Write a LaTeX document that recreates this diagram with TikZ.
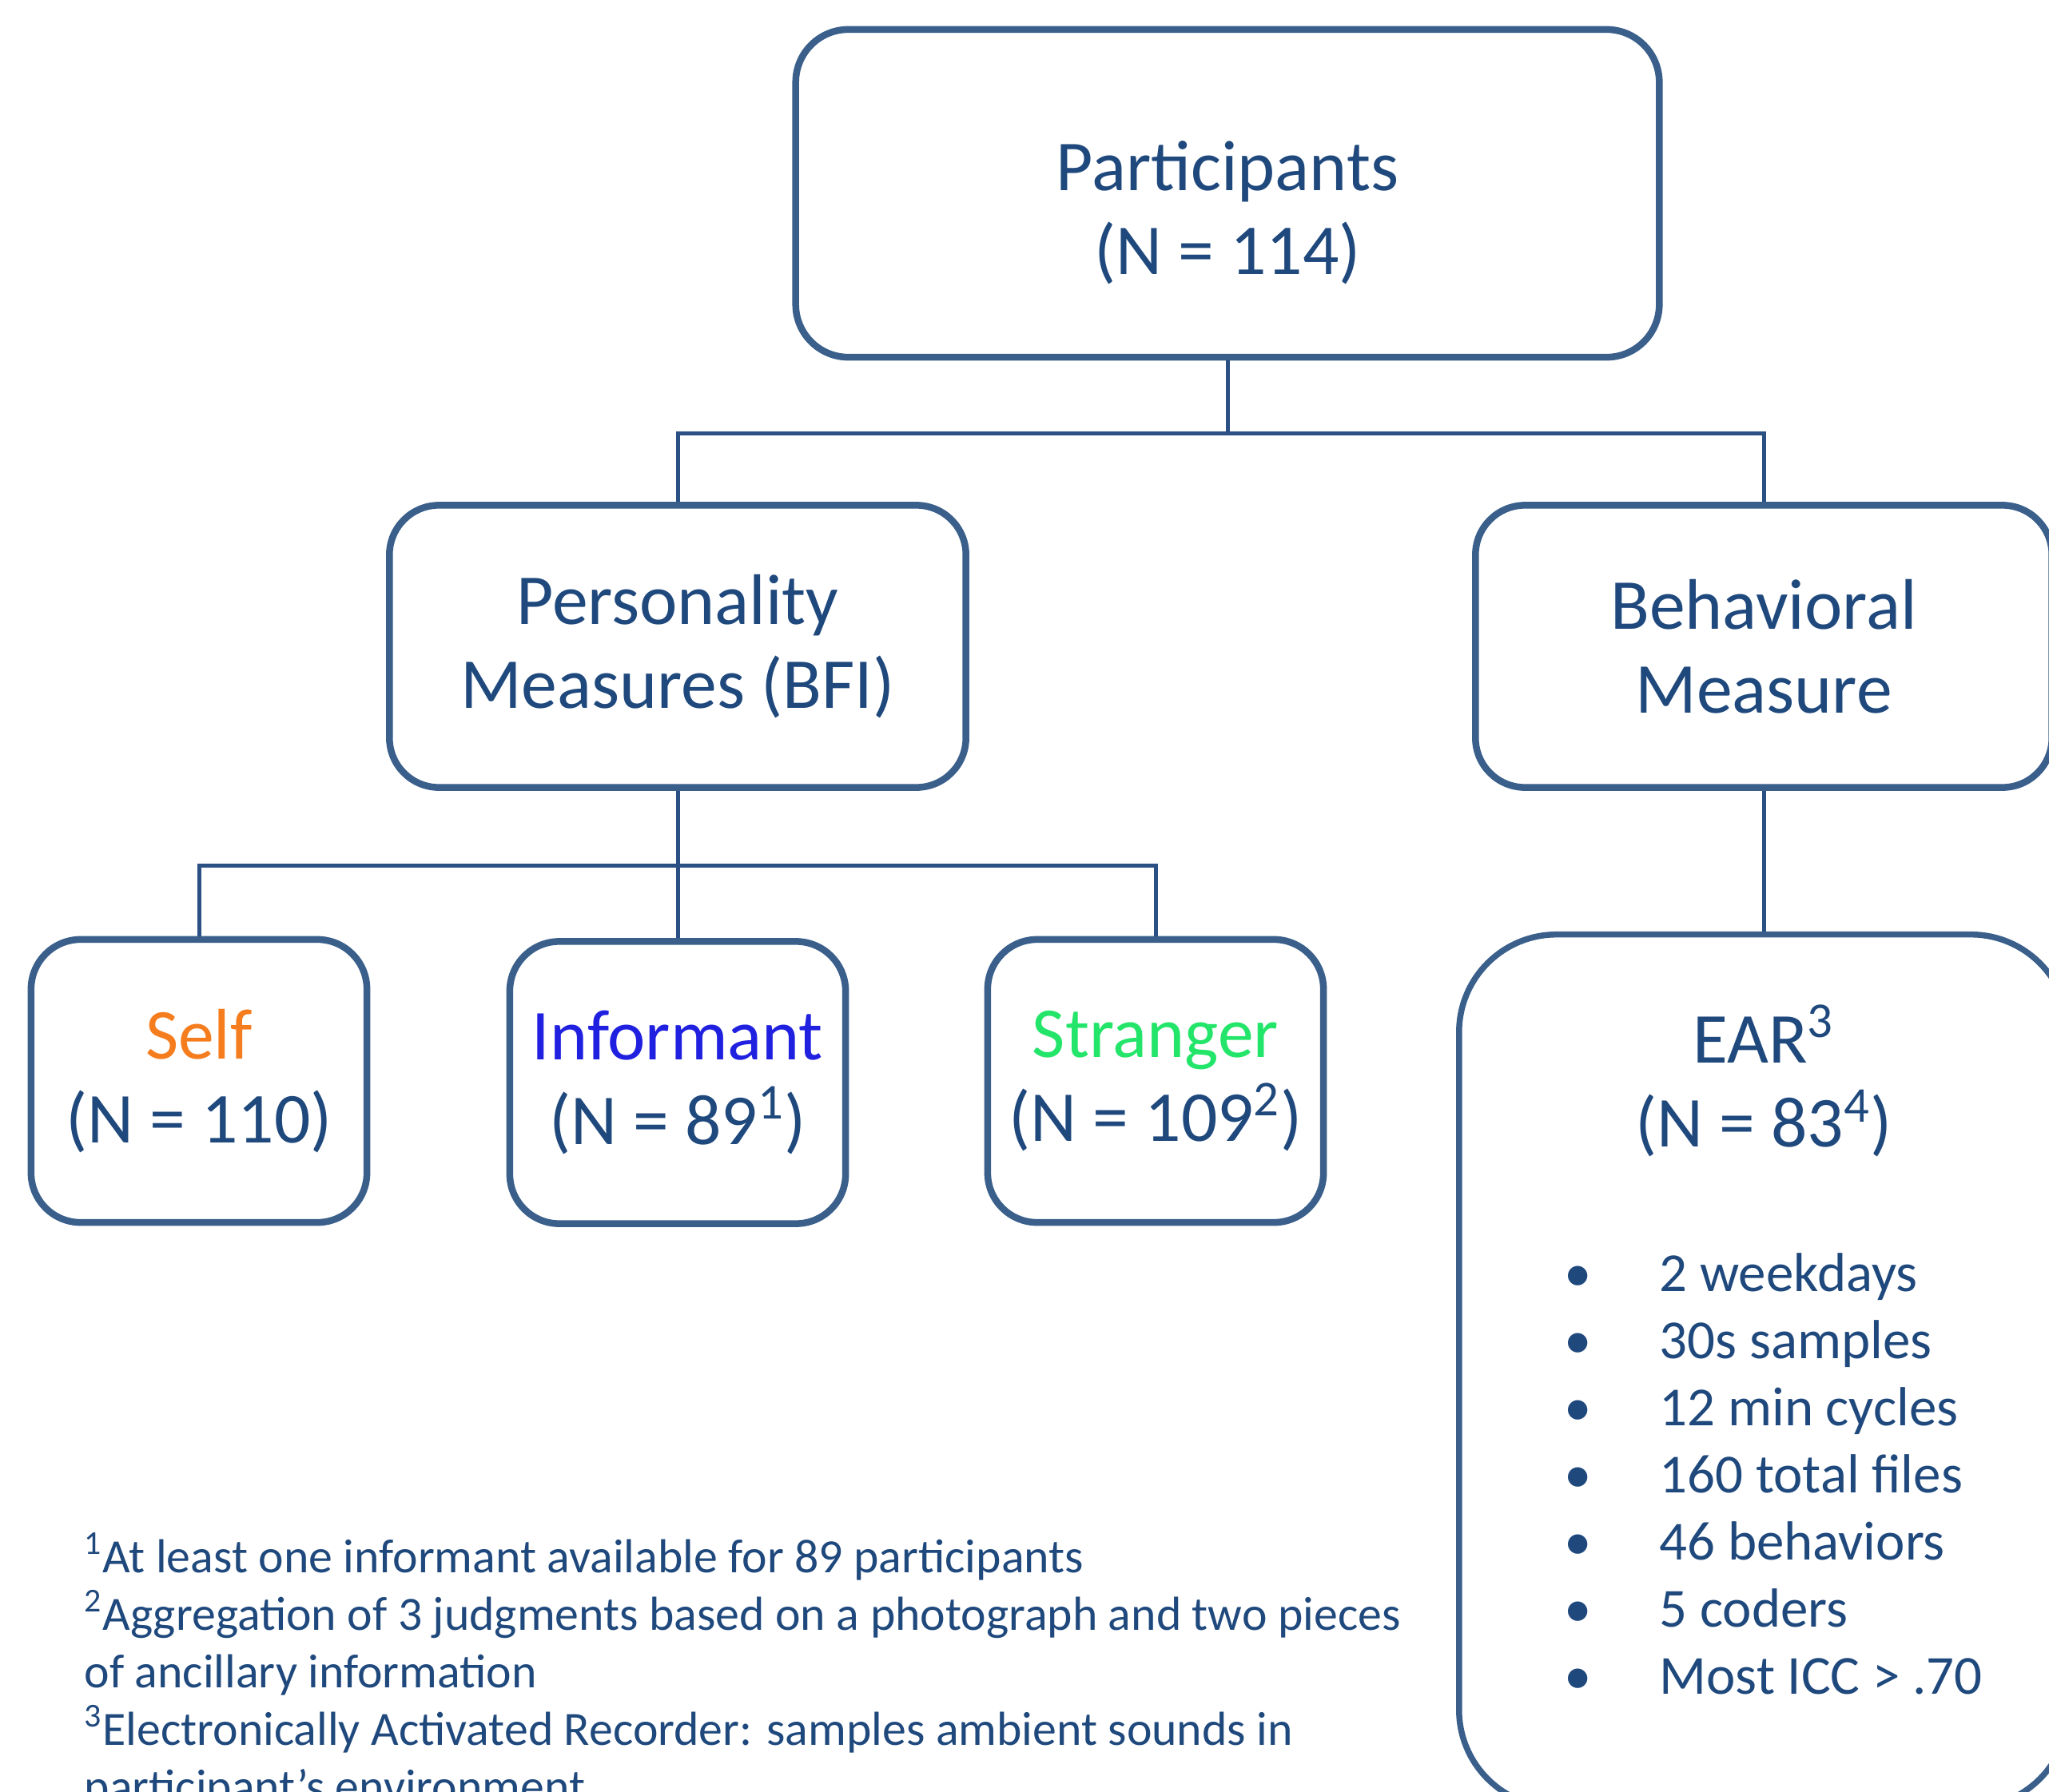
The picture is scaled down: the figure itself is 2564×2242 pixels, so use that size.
\documentclass[tikz,border=0pt]{standalone}
\usepackage{fontspec}
\setmainfont{Carlito}
\definecolor{boxline}{HTML}{3A5F8B}
\definecolor{linkline}{HTML}{2A5084}
\definecolor{txtblue}{HTML}{1F497D}
\definecolor{selforange}{HTML}{F57D1E}
\definecolor{informblue}{HTML}{2020E0}
\definecolor{strangergreen}{HTML}{22E569}
\newcommand\bigtxt{\fontsize{25.5}{30}\selectfont}
\newcommand\listtxt{\fontsize{19.6}{24}\selectfont}
\newcommand\fntxtsize{\fontsize{17}{20.5}\selectfont}

\begin{document}
\begin{tikzpicture}[x=0.01cm,y=-0.01cm,
	box/.style={draw=boxline,line width=0.085cm,rounded corners=0.62cm,align=center,
		text=txtblue,font=\bigtxt,inner sep=2pt},
	link/.style={draw=linkline,line width=0.05cm},
	bul/.style={anchor=base,inner sep=0pt,text=txtblue,font=\listtxt},
	bultxt/.style={anchor=base west,inner sep=0pt,text=txtblue,font=\listtxt},
	fntxt/.style={anchor=base west,inner sep=0pt,text=txtblue,font=\fntxtsize}]
	
	\useasboundingbox (0,0) rectangle (2564,2242);
	\fill[white] (0,0) rectangle (2564,2242);
	\clip (0,0) rectangle (2564,2242);
	
	% top
	\node[box,minimum width=10.8cm,minimum height=4.1cm,rounded corners=0.66cm] (part) at (1536,242) {};
	\node[align=center,text=txtblue,font=\bigtxt] (parttxt) at (1536,266) {Participants\\(N = 114)};
	
	% measures
	\node[box,minimum width=7.21cm,minimum height=3.53cm] (pers) at (848,809) {Personality\\Measures (BFI)};
	\node[box,minimum width=7.21cm,minimum height=3.53cm] (behav) at (2207,809) {Behavioral\\Measure};
	
	% raters
	\node[box,minimum width=4.2cm,minimum height=3.54cm] (self) at (249,1353) {\textcolor{selforange}{Self}\\(N = 110)};
	\node[box,minimum width=4.2cm,minimum height=3.53cm] (inform) at (848,1355) {\textcolor{informblue}{Informant}\\(N = 89\textsuperscript{1})};
	\node[box,minimum width=4.2cm,minimum height=3.54cm] (strang) at (1446,1353) {\textcolor{strangergreen}{Stranger}\\(N = 109\textsuperscript{2})};
	
	% EAR
	\node[box,line width=0.075cm,rounded corners=1.22cm,minimum width=7.62cm,minimum height=10.92cm] (ear) at (2207,1716) {};
	\node[align=center,text=txtblue,font=\bigtxt] (eartitle) at (2207,1353) {EAR\textsuperscript{3}\\(N = 83\textsuperscript{4})};
	\foreach \txt [count=\i from 0] in {2 weekdays,30s samples,12 min cycles,160 total files,46 behaviors,5 coders,Most ICC > .70}{
		\node[bul] (bul\i) at (1975,{1616+84*\i}) {\textbullet};
		\node[bultxt] (item\i) at (2076,{1616+84*\i}) {\txt};
	}
	
	% connectors
	\coordinate (j1) at (1536,542);
	\coordinate (j2) at (848,1083);
	\draw[link] (part.south) -- (j1);
	\draw[link] (pers.north) |- (j1) -| (behav.north);
	\draw[link] (pers.south) -- (inform.north);
	\draw[link] (self.north) |- (j2) -| (strang.north);
	\draw[link] (behav.south) -- (ear.north);
	
	% footnotes
	\node[fntxt] (fn1) at (105,1968) {\textsuperscript{1}At least one informant available for 89 participants};
	\node[fntxt] (fn2) at (105,2040) {\textsuperscript{2}Aggregation of 3 judgments based on a photograph and two pieces};
	\node[fntxt] (fn3) at (105,2112) {of ancillary information};
	\node[fntxt] (fn4) at (105,2184) {\textsuperscript{3}Electronically Activated Recorder: samples ambient sounds in};
	\node[fntxt] (fn5) at (105,2256) {participant’s environment};
	
\end{tikzpicture}
\end{document}
